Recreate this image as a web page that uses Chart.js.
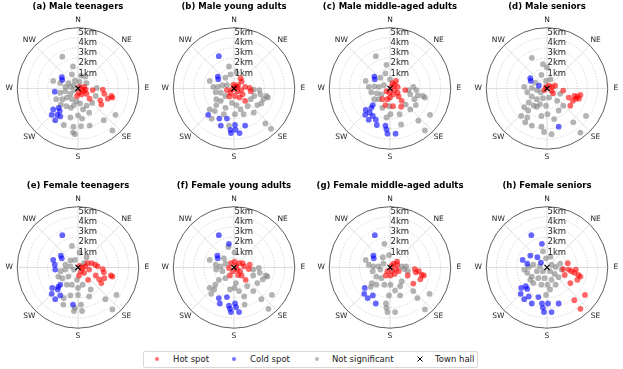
<!DOCTYPE html>
<html>
<head>
<meta charset="utf-8">
<title>Hot and cold spots around the town hall</title>
<script src="https://cdn.jsdelivr.net/npm/chart.js@4.4.1/dist/chart.umd.min.js"></script>
<style>
  body { margin: 0; background: #fff; font-family: "DejaVu Sans", sans-serif; }
  #page { position: relative; width: 623px; height: 369px; overflow: hidden; }
  .panel { position: absolute; width: 156px; height: 172px; }
  #legend { position: absolute; left: 143px; top: 351px; width: 333px; height: 15px; border: 1px solid #d9d9d9; border-radius: 2px; font-size: 8.5px; color: #222; }
  #legend .dot { position: absolute; top: 5px; width: 4px; height: 4px; border-radius: 50%; }
  #legend .lbl { position: absolute; top: 1px; line-height: 12px; white-space: nowrap; }
  #legend svg { position: absolute; top: 4px; }
</style>
</head>
<body>
<div id="page">
  <div id="legend">
    <span class="dot" style="left:11px;background:rgba(255,0,0,0.55)"></span><span class="lbl" style="left:29px">Hot spot</span>
    <span class="dot" style="left:88px;background:rgba(0,0,255,0.55)"></span><span class="lbl" style="left:106px">Cold spot</span>
    <span class="dot" style="left:171px;background:rgba(128,128,128,0.55)"></span><span class="lbl" style="left:188px">Not significant</span>
    <svg style="left:273px" width="6" height="6"><path d="M0.5 0.5L5.5 5.5M5.5 0.5L0.5 5.5" stroke="#000" stroke-width="1"/></svg><span class="lbl" style="left:291px">Town hall</span>
  </div>
</div>
<script>
// point positions, km east / km north of the town hall
const hotA = [[0.15,0.15],[0.4,-0.1],[0.1,-0.4],[0.6,-0.25],[0.85,-0.5],[0.35,-0.55],[0.6,0.15],[1.45,-0.15],[1.15,-0.95],[2.45,-0.1],[2.6,-0.5],[2.95,-0.95],[3.3,-0.7],[3.4,-0.85],[2.3,-1.5],[2.2,-1.1],[0.75,-0.1],[-0.1,-0.7]];
const coldA = [[-1.6,1.05],[-1.55,0.8],[-2.3,-0.3],[-1.9,-1.8],[-2.45,-1.95],[-1.8,-2.1],[-2.6,-2.45],[-2.05,-2.45],[-1.75,-2.6],[-2.25,-2.95]];
const nsA = [[-1.55,2.95],[-0.5,2.05],[0.7,1.1],[0.3,1.2],[-0.6,1.3],[-0.3,0.75],[-0.95,0.5],[-2.45,0.7],[-1.75,0.5],[-1.25,0.15],[-0.75,0.15],[-0.4,0.3],[0.15,0.6],[0.85,0.5],[-1.75,-0.4],[-1.25,-0.25],[-0.75,-0.5],[-0.4,-0.15],[-1.55,-1.0],[-1.1,-0.85],[-0.6,-1.0],[-0.15,-1.2],[-1.15,-1.65],[-0.7,-1.8],[-0.4,-1.55],[0.2,-1.4],[0.5,-1.95],[0,-2.5],[-0.75,-2.7],[0.4,-2.8],[-1.4,-3.4],[-0.45,-3.55],[-0.5,-4.1],[-0.3,-4.25],[0.3,-3.5],[1.15,-3.45],[1.1,-2.25],[1.75,-0.7],[1.85,0.05],[1.4,-1.35],[3.7,-2.45],[2.55,-2.95],[3.4,-3.9],[0.85,-1.6],[-2.15,-1.0],[-1.7,-1.5]];

const hotB = [[0.1,0.15],[0.4,0.3],[0.65,0.95],[0.75,0.65],[-0.2,-0.1],[-0.35,-0.4],[0.35,-0.25],[0.7,-0.15],[1.1,0.15],[1.55,0.05],[1.65,-0.25],[0.85,-0.55],[0.1,-0.7],[-0.45,-0.75],[0.55,-0.85],[1.1,-1.15],[0.3,0.15],[-0.05,0.35],[-0.7,-0.15]];
const coldB = [[-1.5,3.0],[-1.6,1.1],[-1.55,0.85],[-2.55,-2.45],[-1.45,-2.8],[-1.3,-3.45],[-0.7,-2.8],[-0.35,-3.85],[-0.3,-4.15],[0.1,-3.4],[0.15,-3.85],[1.1,-3.45],[0.55,-4.15]];
const nsB = [[-0.5,2.05],[-0.35,1.3],[0.25,1.5],[-0.85,1.0],[-2.4,0.7],[-2.05,0.15],[-1.6,0.15],[-1.15,0.3],[-0.7,0.3],[-1.8,-0.35],[-1.3,-0.4],[-0.85,-0.7],[-1.75,-1.0],[-1.3,-1.15],[-0.85,-1.8],[-0.2,-1.35],[0.25,-1.55],[0.65,-1.95],[0.1,-2.4],[-1.75,-1.55],[-2.4,-1.95],[-1.9,-2.1],[-2.2,-2.8],[-1.0,-2.4],[-0.5,-3.45],[1.95,-0.1],[2.0,-0.7],[2.5,-0.15],[2.6,-0.55],[3.2,-0.7],[3.35,-0.85],[2.9,-1.0],[2.3,-1.55],[2.7,-1.4],[1.95,-2.25],[1.35,-1.65],[3.65,-3.75],[3.1,-3.25],[0.95,-2.4],[1.65,-1.0]];

const hotC = [[0.15,0.15],[0.45,0.35],[0.6,0.7],[0.25,0.5],[0.75,0.15],[0.45,-0.15],[0.75,-0.4],[0.3,-0.55],[-0.05,-0.4],[-0.35,-0.25],[0,-0.85],[0.85,-0.75],[1.5,-0.15],[-0.25,-1.0],[-0.75,-1.0],[-0.45,-1.55],[0.3,-1.65],[1.1,-1.7],[1.15,-1.15]];
const coldC = [[-1.55,1.1],[-1.5,0.85],[-1.7,-1.55],[-1.85,-1.8],[-2.4,-2.0],[-2.0,-2.25],[-2.45,-2.45],[-1.7,-2.55],[-2.1,-2.9],[-1.4,-2.9],[-1.3,-3.4],[-0.45,-3.45],[-0.35,-3.8],[-0.25,-4.2],[0.55,-4.2]];
const nsC = [[-1.4,3.0],[-0.35,2.2],[-0.45,1.4],[-0.95,1.0],[0,0.85],[-2.4,0.7],[-2.1,0.15],[-1.55,0.2],[-1.1,0.15],[-0.6,0.3],[-1.85,-0.35],[-1.3,-0.45],[-0.85,-0.55],[-1.55,-1.0],[-1.1,-1.0],[-0.75,-1.8],[-0.05,-1.65],[0.05,-2.4],[0.95,-2.4],[1.85,-0.15],[2.0,-0.55],[2.6,-0.15],[2.75,-0.65],[3.25,-0.7],[3.45,-0.85],[2.4,-1.0],[2.55,-1.55],[2.0,-1.95],[1.55,-1.5],[3.95,-2.45],[2.8,-3.0],[3.45,-3.9],[-0.35,-2.7],[1.1,-3.35],[2.3,0.15]];

const hotD = [[-0.1,0.15],[0.2,0.25],[0.5,0.15],[0.8,0.25],[0.45,-0.2],[-0.25,-0.15],[0.6,-0.45],[1.6,-0.2],[2.15,-0.85],[2.7,-0.7],[3.0,-0.75],[3.15,-0.95],[3.3,-0.6],[2.55,-1.15],[2.3,-1.6],[2.85,-0.95]];
const coldD = [[-1.65,0.95],[-1.6,0.7],[-0.8,0.25],[1.15,-3.55]];
const nsD = [[-1.5,2.85],[-0.4,2.25],[0,1.95],[-0.55,1.25],[-1.15,0.55],[-0.1,0.7],[0.35,0.85],[-2.25,0.15],[-1.95,-0.35],[-1.5,0.05],[-1.0,-0.15],[-0.6,-0.35],[-1.5,-0.75],[-1.0,-1.0],[-0.4,-0.9],[0.2,-0.85],[-1.8,-1.3],[-1.3,-1.6],[-0.7,-1.45],[-0.1,-1.6],[-2.25,-1.75],[-1.85,-2.05],[-2.55,-2.55],[-1.95,-2.7],[-1.5,-3.45],[-2.15,-3.15],[-0.55,-2.55],[0.05,-2.4],[-0.55,-3.55],[-0.3,-4.05],[0.45,-4.25],[0.7,-2.85],[1.15,-2.05],[1.6,-1.6],[1.0,-1.15],[3.85,-2.55],[3.3,-4.1],[2.6,-3.15],[1.3,-0.5],[-1.0,-1.7]];

const hotE = [[0.15,0.15],[0.45,-0.05],[0.3,-0.35],[0.7,0.1],[0.95,0.4],[1.35,0.4],[1.7,0.25],[0.6,-0.5],[1.1,-0.2],[1.95,0.1],[1.0,-1.15],[1.75,-0.75],[2.45,-0.15],[2.55,-0.45],[2.6,-1.0],[3.25,-0.75],[3.4,-0.85],[2.3,-1.45],[2.1,-1.1],[0.1,-0.75]];
const coldE = [[-1.55,3.0],[-1.7,1.1],[-1.6,0.85],[-2.45,0.7],[-2.25,-0.2],[-2.3,0.25],[-1.75,-1.6],[-1.95,-1.8],[-2.55,-1.9],[-2.0,-2.05],[-2.6,-2.45],[-1.75,-2.6],[-2.25,-2.95],[-0.5,-3.45]];
const nsE = [[-0.6,2.0],[0.15,1.4],[-0.3,0.7],[-0.75,0.65],[-1.25,0.25],[-0.75,0.1],[-0.4,-0.2],[-1.7,-0.35],[-1.25,-0.2],[-1.55,-1.0],[-0.95,-0.85],[-0.6,-1.6],[-0.1,-1.15],[-1.1,-1.6],[0,-1.9],[0.45,-1.6],[-0.75,-2.6],[0,-2.55],[-1.4,-2.85],[-0.4,-4.05],[-0.3,-3.75],[0.3,-3.45],[0.4,-4.05],[1.1,-2.7],[1.25,-2.05],[2.7,-2.95],[3.8,-2.55],[3.4,-3.9],[-1.45,-3.45],[-1.95,-0.85],[0.6,0.4],[0.85,0.95]];

const hotF = [[0.2,0.15],[0.5,0.4],[0.85,0.4],[1.0,0.1],[-0.3,0.4],[-0.1,-0.35],[0.3,-0.2],[0.6,-0.35],[0.4,-0.7],[-0.4,-0.75],[0.75,-0.75],[1.45,-0.15],[1.55,0.25],[1.15,-1.15],[-0.5,-0.05],[0.05,0.55]];
const coldF = [[-1.5,3.0],[-0.5,2.2],[-1.65,1.1],[-1.6,0.85],[-1.5,-2.85],[-1.4,-3.35],[-0.7,-2.75],[-0.5,-3.55],[-0.4,-3.85],[-0.3,-4.15],[0.1,-3.35],[0.2,-3.7],[0.5,-4.15]];
const nsF = [[-0.55,1.9],[0.05,1.4],[-1.0,0.85],[-2.4,0.7],[-1.8,0.25],[-1.35,0.1],[-0.85,0.35],[-1.75,-0.2],[-1.15,-0.35],[-0.85,-1.0],[-1.5,-1.15],[-1.85,-1.6],[-2.4,-1.9],[-1.95,-2.05],[-2.25,-2.45],[0.2,-1.45],[0.5,-2.2],[-0.4,-2.05],[0.05,-1.9],[1.9,-0.2],[1.9,-0.75],[2.45,-0.05],[2.55,-0.5],[3.15,-0.75],[3.3,-0.85],[2.85,-1.1],[2.3,-1.45],[1.9,-2.2],[1.0,-2.7],[1.05,-3.45],[3.75,-2.55],[3.4,-3.85],[2.7,-2.95],[1.3,-1.75]];

const hotG = [[0.15,0.15],[0.35,0.35],[0.7,0.25],[0.6,-0.15],[0.2,-0.3],[-0.25,-0.35],[0.85,-0.35],[0.45,-0.6],[-0.4,-0.75],[0.05,-0.75],[1.75,-0.75],[2.45,-0.15],[2.55,-0.45],[2.85,-0.35],[3.15,-0.7],[3.35,-0.75],[3.0,-1.1],[2.3,-1.5],[0.7,0.55]];
const coldG = [[-1.5,3.0],[-1.65,1.1],[-1.6,0.85],[-2.5,-1.9],[-2.55,-2.45],[-2.2,-2.85],[-1.7,-2.6],[-1.4,-3.35]];
const nsG = [[-0.55,2.2],[-0.1,1.15],[-0.7,0.95],[-2.4,0.7],[-2.1,0.25],[-1.65,0.1],[-1.15,0.1],[-0.65,0.35],[-0.95,-0.2],[-1.7,-0.35],[-1.35,-0.85],[-0.85,-1.0],[-1.8,-1.45],[-1.35,-1.6],[-1.9,-1.8],[-0.55,-1.6],[0.05,-1.6],[0.5,-2.15],[-0.1,-2.6],[-0.4,-3.35],[-0.35,-3.75],[-0.25,-4.15],[0.5,-4.15],[1.15,0.1],[1.6,0.1],[1.75,-0.35],[1.4,-0.15],[2.3,-2.2],[2.7,-2.85],[3.9,-2.45],[3.45,-3.9],[1.0,-1.75],[1.15,-1.3],[1.0,-2.6]];

const hotH = [[2.05,0.4],[1.6,-0.15],[1.75,-0.7],[2.15,-0.2],[2.4,-0.35],[2.7,-0.5],[2.85,-0.2],[3.1,-0.7],[3.3,-0.85],[3.0,-1.15],[2.3,-1.45],[3.75,-2.55],[2.7,-3.05],[3.3,-3.85]];
const coldH = [[-1.55,3.0],[-0.5,2.2],[-2.4,0.7],[-1.65,1.1],[-1.95,0.35],[-0.95,0.95],[-0.6,0.45],[-2.55,-1.9],[-2.1,-1.75],[-1.95,-2.0],[-2.6,-2.45],[-2.25,-2.95],[-1.8,-2.7],[-1.5,-3.35],[-0.85,-2.75],[-0.5,-3.35],[-0.4,-3.75],[-0.3,-4.15],[0.1,-3.35],[0.45,-4.15],[1.15,-3.35]];
const nsH = [[-0.4,1.5],[0.35,1.0],[-0.1,0.85],[-2.25,-0.2],[-1.8,0.05],[-1.35,0.25],[-0.7,0.1],[0.45,0.25],[0.85,0.05],[1.3,0.35],[1.45,-0.2],[-1.0,-0.35],[-0.4,-0.35],[0.3,-0.35],[0.75,-0.6],[-1.5,-0.85],[-0.85,-1.0],[-0.25,-1.0],[0.45,-1.15],[1.15,-0.9],[-1.35,-1.45],[-0.55,-1.6],[0.05,-1.6],[0.85,-1.6],[-0.1,-2.55],[0.3,-2.05],[-1.65,-1.15],[-1.95,-0.5]];

const panelTitles = ['(a) Male teenagers', '(b) Male young adults', '(c) Male middle-aged adults', '(d) Male seniors',
                     '(e) Female teenagers', '(f) Female young adults', '(g) Female middle-aged adults', '(h) Female seniors'];
const ringKm = [1, 2, 3, 4, 5];
const ringLabels = ['1km', '2km', '3km', '4km', '5km'];
const compass = ['N', 'NE', 'E', 'SE', 'S', 'SW', 'W', 'NW'];
const townHall = [[0, 0]];

const RMAX = 6;                  // outer circle, km
const SPAN = RMAX * 78 / 65;     // half width of the square plot area, km
const colX = [78, 234, 390, 547];
const rowY = [89, 268];

const toXY = pts => pts.map(p => ({ x: p[0], y: p[1] }));

// polar grid, compass labels, ring labels and title
const polarFrame = {
  id: 'polarFrame',
  beforeDatasetsDraw(chart) {
    const { ctx, scales: { x, y } } = chart;
    const cx = x.getPixelForValue(0), cy = y.getPixelForValue(0);
    const kmPx = x.getPixelForValue(1) - cx;
    const rOut = RMAX * kmPx;
    ctx.save();
    ctx.strokeStyle = '#d4d4d4';
    ctx.lineWidth = 0.8;
    for (let i = 0; i < 8; i++) {
      const a = i * Math.PI / 4;
      ctx.beginPath();
      ctx.moveTo(cx, cy);
      ctx.lineTo(cx + Math.sin(a) * rOut, cy - Math.cos(a) * rOut);
      ctx.stroke();
    }
    ctx.setLineDash([1.2, 1.6]);
    ctx.strokeStyle = '#c8c8c8';
    ringKm.forEach(k => {
      ctx.beginPath();
      ctx.arc(cx, cy, k * kmPx, 0, Math.PI * 2);
      ctx.stroke();
    });
    ctx.setLineDash([]);
    ctx.strokeStyle = '#4d4d4d';
    ctx.lineWidth = 0.9;
    ctx.beginPath();
    ctx.arc(cx, cy, rOut, 0, Math.PI * 2);
    ctx.stroke();
    ctx.restore();
  },
  afterDatasetsDraw(chart, args, opts) {
    const { ctx, scales: { x, y } } = chart;
    const cx = x.getPixelForValue(0), cy = y.getPixelForValue(0);
    const kmPx = x.getPixelForValue(1) - cx;
    const rOut = RMAX * kmPx;
    ctx.save();
    ctx.fillStyle = '#222';
    ctx.textBaseline = 'middle';
    ctx.textAlign = 'center';
    ctx.font = '7.5px "DejaVu Sans"';
    compass.forEach((lab, i) => {
      const a = i * Math.PI / 4;
      ctx.fillText(lab, cx + Math.sin(a) * (rOut + 8), cy - Math.cos(a) * (rOut + 8));
    });
    ctx.textAlign = 'left';
    ctx.font = '8.5px "DejaVu Sans"';
    ringKm.forEach((k, i) => {
      ctx.fillText(ringLabels[i], cx + 0.5, cy - k * kmPx - 5);
    });
    ctx.textAlign = 'center';
    ctx.fillStyle = '#000';
    ctx.font = 'bold 8.5px "DejaVu Sans"';
    ctx.fillText(opts.title, cx, 8);
    ctx.restore();
  }
};

function makePanel(idx, hot, cold, ns) {
  const cx = colX[idx % 4], cy = rowY[Math.floor(idx / 4)];
  const div = document.createElement('div');
  div.className = 'panel';
  div.style.left = (cx - 78) + 'px';
  div.style.top = (cy - 90) + 'px';
  const canvas = document.createElement('canvas');
  canvas.width = 156;
  canvas.height = 172;
  div.appendChild(canvas);
  document.getElementById('page').appendChild(div);

  const dot = { pointRadius: 2.9, borderWidth: 0, pointHoverRadius: 2.9 };
  new Chart(canvas, {
    type: 'scatter',
    data: {
      datasets: [
        { label: 'Town hall', data: toXY(townHall), pointStyle: 'crossRot', pointRadius: 3.6,
          borderColor: '#000', backgroundColor: '#000', borderWidth: 1.1 },
        { label: 'Hot spot', data: toXY(hot), backgroundColor: 'rgba(255,0,0,0.6)', ...dot },
        { label: 'Cold spot', data: toXY(cold), backgroundColor: 'rgba(0,0,255,0.6)', ...dot },
        { label: 'Not significant', data: toXY(ns), backgroundColor: 'rgba(128,128,128,0.6)', ...dot }
      ]
    },
    options: {
      responsive: false,
      animation: false,
      devicePixelRatio: 1,
      events: [],
      layout: { padding: { top: 12, bottom: 4, left: 0, right: 0 } },
      scales: {
        x: { type: 'linear', min: -SPAN, max: SPAN, display: false },
        y: { type: 'linear', min: -SPAN, max: SPAN, display: false }
      },
      plugins: {
        legend: { display: false },
        tooltip: { enabled: false },
        polarFrame: { title: panelTitles[idx] }
      }
    },
    plugins: [polarFrame]
  });
}

const panels = [
  [hotA, coldA, nsA], [hotB, coldB, nsB], [hotC, coldC, nsC], [hotD, coldD, nsD],
  [hotE, coldE, nsE], [hotF, coldF, nsF], [hotG, coldG, nsG], [hotH, coldH, nsH]
];
panels.forEach((p, i) => makePanel(i, p[0], p[1], p[2]));
</script>
</body>
</html>
